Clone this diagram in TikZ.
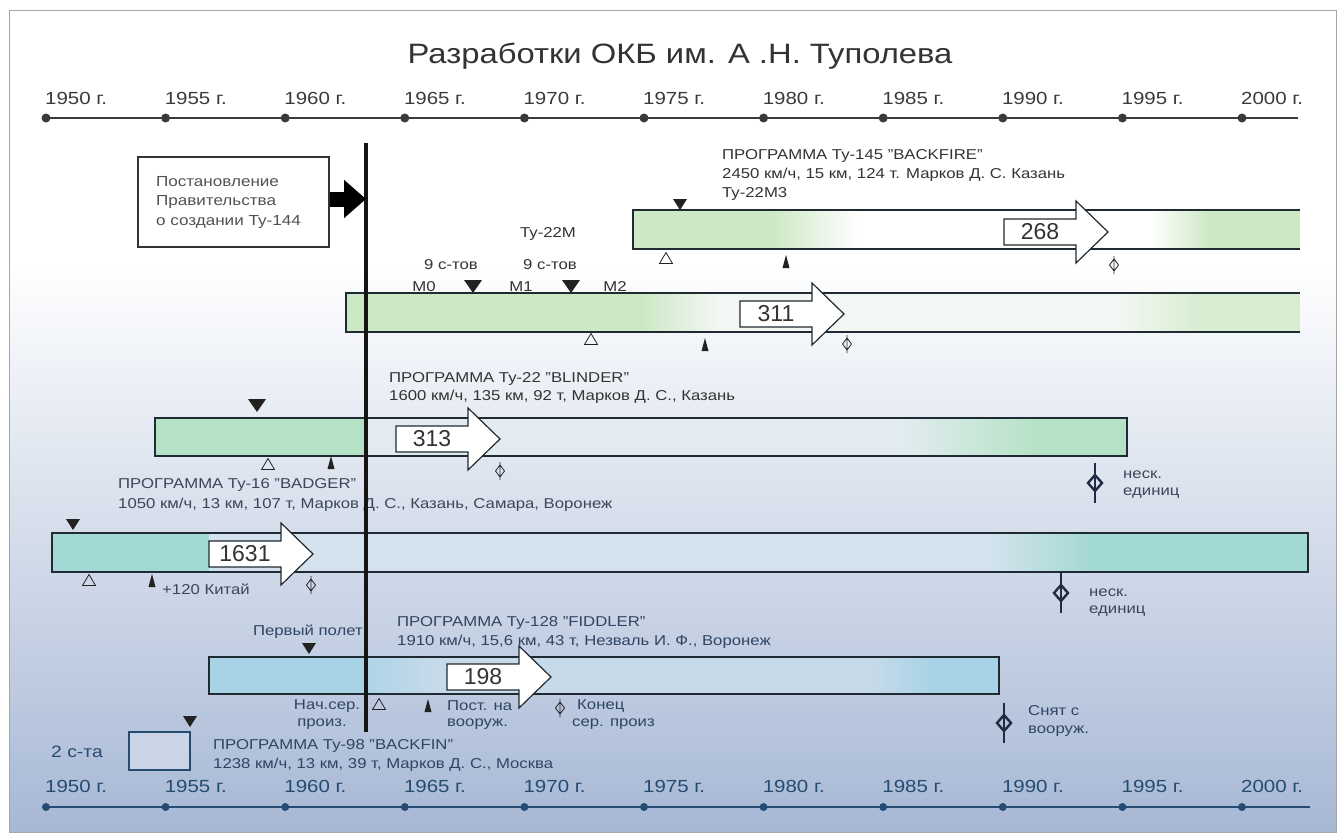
\documentclass[tikz,border=0pt]{standalone}
\usepackage{fontspec}
\setmainfont[FakeStretch=1.17]{Liberation Sans}
\newfontfamily\numfont{Liberation Sans}
\usetikzlibrary{arrows.meta}
\definecolor{bgb}{HTML}{A7B8D5}
\definecolor{barc}{HTML}{1F2A33}
\definecolor{gA}{HTML}{CDE8C5}
\definecolor{gB}{HTML}{B5E2C6}
\definecolor{tC}{HTML}{A3D9D5}
\definecolor{bD}{HTML}{A8D3E6}
\definecolor{paleA}{HTML}{F3F7F3}
\definecolor{paleB}{HTML}{E2ECF0}
\definecolor{paleC}{HTML}{D3E2EC}
\definecolor{paleD}{HTML}{C7DAE9}
\definecolor{txtA}{HTML}{333333}
\definecolor{txtB}{HTML}{3C4656}
\definecolor{txtC}{HTML}{2E4563}
\definecolor{axT}{HTML}{3A3A3A}
\definecolor{axB}{HTML}{264B72}
\definecolor{mk}{HTML}{222222}
\definecolor{mkb}{HTML}{1E2D42}
\newcommand\numarrow[4]{%
  \draw[numarrowst] (#2,#3-13) -- (#2+72,#3-13) -- (#2+72,#3-31) -- (#2+104,#3)
    -- (#2+72,#3+31) -- (#2+72,#3+13) -- (#2,#3+13) -- cycle;
  \node[numtxt] (#1) at (#2+36,#3) {#4};}
\begin{document}
\begin{tikzpicture}[x=1pt,y=-1pt,
  lbl/.style={font=\fontsize{14.3}{17}\selectfont, anchor=west, inner sep=0pt},
  lblA/.style={lbl, text=txtA},
  lblB/.style={lbl, text=txtB},
  lblC/.style={lbl, text=txtC},
  yearT/.style={font=\fontsize{17.5}{20}\selectfont, anchor=west, inner sep=0pt, text=axT},
  yearB/.style={font=\fontsize{17.5}{20}\selectfont, anchor=west, inner sep=0pt, text=axB},
  barline/.style={draw=barc, line width=1.8pt},
  numarrowst/.style={draw=barc, line width=1.2pt, fill=white, line join=miter},
  numtxt/.style={font=\numfont\fontsize{23}{25}\selectfont, inner sep=0pt, text=txtA},
  ffl/.pic={\fill[mk] (-7,-5) -- (7,-5) -- (0,6) -- cycle;},
  fflbig/.pic={\fill[mk] (-9,-6) -- (9,-6) -- (0,7) -- cycle;},
  spr/.pic={\draw[mk, line width=0.8pt] (-6.5,5.5) -- (6.5,5.5) -- (0,-5.5) -- cycle;},
  svc/.pic={\fill[mk] (-3.5,6) -- (3.5,6) -- (0,-7) -- cycle;},
  endp/.pic={\draw[mk, line width=0.8pt] (0,-9) -- (0,9) (0,-6) -- (4.5,0) -- (0,6) -- (-4.5,0) -- cycle;},
  endbold/.pic={\draw[mkb, line width=2.4pt] (0,-20) -- (0,20);
                \draw[mkb, line width=2.4pt] (0,-8) -- (7,0) -- (0,8) -- (-7,0) -- cycle;}
]
\useasboundingbox (0,0) rectangle (1343,838);
\fill[white] (0,0) rectangle (1343,838);
% background
\fill[white] (9,10) rectangle (1336,260);
\shade[top color=white, bottom color=bgb] (9,260) rectangle (1336,832);
\draw[gray!70, line width=1pt] (9,10) rectangle (1336,832);

% title
\node[font=\fontsize{28}{32}\selectfont, text=txtA, inner sep=0pt] (title) at (680,56) {Разработки ОКБ им. А .Н. Туполева};

% axes
\draw[axT, line width=2pt] (46,118) -- (1298,118);
\draw[axB, line width=2pt] (46,807) -- (1310,807);
\foreach \i in {0,...,10}{
  \pgfmathsetmacro\xx{46+119.6*\i}
  \pgfmathtruncatemacro\yr{1950+5*\i}
  \fill[axT] (\xx,118) circle (4.5pt);
  \node[yearT] (ty\i) at (\xx-1,98) {\yr~г.};
  \fill[axB] (\xx,807) circle (4pt);
  \node[yearB] (by\i) at (\xx-1,786) {\yr~г.};
}

% decree box
\node[draw=txtA, line width=1.5pt, fill=white, minimum width=191pt, minimum height=90pt,
      inner xsep=18pt, text width=155pt, align=left, text=txtA!85,
      font=\fontsize{14.6}{19.5}\selectfont] (decree) at (233.5,202)
      {Постановление\\Правительства\\о создании Ту-144};

% ---- Tu-145 bar
\fill[gA] (633,210) rectangle (770,249);
\shade[left color=gA, right color=white] (770,210) rectangle (860,249);
\fill[white] (860,210) rectangle (1150,249);
\shade[left color=white, right color=gA] (1150,210) rectangle (1210,249);
\fill[gA] (1210,210) rectangle (1300,249);
\draw[barline] (1300,210) -- (633,210) -- (633,249) -- (1300,249);
\numarrow{n268}{1004}{232}{268}
\node[lblA] (t145a) at (722,156) {ПРОГРАММА Ту-145 "BACKFIRE"};
\node[lblA] (t145b) at (722,175) {2450 км/ч, 15 км, 124 т. Марков Д. С. Казань};
\node[lblA] (t145c) at (722,194) {Ту-22М3};
\pic at (680,204) {ffl};
\pic at (666,258) {spr};
\pic at (786,262) {svc};
\pic at (1114,265) {endp};

% ---- Tu-22M bar
\fill[gA] (346,293) rectangle (640,332);
\shade[left color=gA, right color=paleA] (640,293) rectangle (720,332);
\fill[paleA] (720,293) rectangle (1120,332);
\shade[left color=paleA, right color=gA!80] (1120,293) rectangle (1200,332);
\fill[gA!80] (1200,293) rectangle (1300,332);
\draw[barline] (1300,293) -- (346,293) -- (346,332) -- (1300,332);
\numarrow{n311}{740}{314}{311}
\node[lblA, anchor=center] (t22m) at (548,234) {Ту-22М};
\node[lblA, anchor=center] (s9a) at (451,265) {9 с-тов};
\node[lblA, anchor=center] (s9b) at (550,265) {9 с-тов};
\node[lblA, anchor=center] (m0) at (424,287) {М0};
\node[lblA, anchor=center] (m1) at (521,287) {М1};
\node[lblA, anchor=center] (m2) at (615,287) {М2};
\pic at (473,286) {fflbig};
\pic at (571,286) {fflbig};
\pic at (591,339) {spr};
\pic at (705,345) {svc};
\pic at (847,344) {endp};

% ---- Tu-22 bar
\fill[gB] (155,418) rectangle (366,456);
\fill[paleB] (366,418) rectangle (900,456);
\shade[left color=paleB, right color=gB] (900,418) rectangle (1040,456);
\fill[gB] (1040,418) rectangle (1127,456);
\draw[barline] (155,418) rectangle (1127,456);
\numarrow{n313}{396}{439}{313}
\node[lblA] (t22a) at (389,379) {ПРОГРАММА Ту-22 "BLINDER"};
\node[lblA] (t22b) at (389,397) {1600 км/ч, 135 км, 92 т, Марков Д. С., Казань};
\pic at (257,405) {fflbig};
\pic at (268,464) {spr};
\pic at (331,463) {svc};
\pic at (500,471) {endp};
\pic at (1095,483) {endbold};
\node[lblB] (nesk1) at (1123,475) {неск.};
\node[lblB] (edin1) at (1123,493) {единиц};

% ---- Tu-16 bar
\fill[tC] (52,533) rectangle (209,572);
\fill[paleC] (209,533) rectangle (990,572);
\shade[left color=paleC, right color=tC] (990,533) rectangle (1092,572);
\fill[tC] (1092,533) rectangle (1308,572);
\draw[barline] (52,533) rectangle (1308,572);
\numarrow{n1631}{209}{554}{1631}
\node[lblB] (t16a) at (118,485) {ПРОГРАММА Ту-16 "BADGER"};
\node[lblB] (t16b) at (118,505) {1050 км/ч, 13 км, 107 т, Марков Д. С., Казань, Самара, Воронеж};
\pic at (73,524) {ffl};
\pic at (89,580) {spr};
\pic at (152,581) {svc};
\pic at (311,585) {endp};
\node[lblB] (kit) at (162,589) {+120 Китай};
\pic at (1061,593) {endbold};
\node[lblB] (nesk2) at (1089,593) {неск.};
\node[lblB] (edin2) at (1089,611) {единиц};

% ---- Tu-128 bar
\fill[bD] (209,657) rectangle (366,694);
\shade[left color=bD!80!paleD, right color=paleD] (366,657) rectangle (440,694);
\fill[paleD] (440,657) rectangle (870,694);
\shade[left color=paleD, right color=bD] (870,657) rectangle (930,694);
\fill[bD] (930,657) rectangle (999,694);
\draw[barline] (209,657) rectangle (999,694);
\numarrow{n198}{447}{677}{198}
\node[lblC] (t128a) at (397,623) {ПРОГРАММА Ту-128 "FIDDLER"};
\node[lblC] (t128b) at (397,642) {1910 км/ч, 15,6 км, 43 т, Незваль И. Ф., Воронеж};
\node[lblC, anchor=east] (perv) at (363,632) {Первый полет};
\pic at (309,648) {ffl};
\pic at (379,704) {spr};
\pic at (428,706) {svc};
\pic at (560,708) {endp};
\node[lblC, anchor=center] (nach1) at (327,706) {Нач.сер.};
\node[lblC, anchor=center] (nach2) at (322,724) {произ.};
\node[lblC] (post1) at (447,706) {Пост. на};
\node[lblC] (post2) at (447,724) {вооруж.};
\node[lblC] (kon1) at (577,706) {Конец};
\node[lblC] (kon2) at (572,724) {сер. произ};
\pic at (1004,723) {endbold};
\node[lblC] (snyat1) at (1028,711) {Снят с};
\node[lblC] (snyat2) at (1028,731) {вооруж.};

% ---- Tu-98
\draw[draw=axB, line width=2pt, fill=bgb!60!white] (129,732) rectangle (190,770);
\pic at (190,721) {ffl};
\node[font=\fontsize{16.5}{20}\selectfont, text=axB, anchor=west, inner sep=0pt] (sta) at (51,752) {2 с-та};
\node[lblC] (t98a) at (213,746) {ПРОГРАММА Ту-98 "BACKFIN"};
\node[lblC] (t98b) at (213,765) {1238 км/ч, 13 км, 39 т, Марков Д. С., Москва};

% decree line and arrow
\coordinate (vtop) at (366,143);
\coordinate (vbot) at (366,732);
\coordinate (vmark) at (366,199);
\draw[black!92, line width=4pt] (vtop) -- (vbot);
\draw[black, line width=15pt, -{Triangle[width=37pt,length=22pt]}] (decree.east |- vmark) -- (vmark);
\end{tikzpicture}
\end{document}
